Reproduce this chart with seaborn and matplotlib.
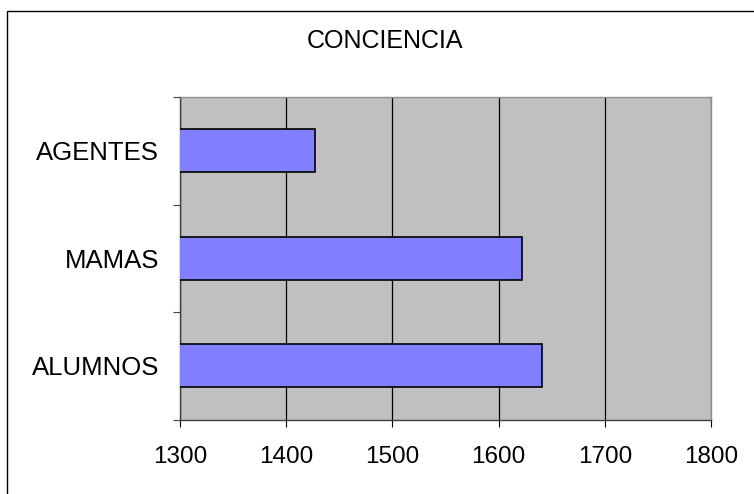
import matplotlib
matplotlib.use("Agg")
import matplotlib.pyplot as plt
from matplotlib.patches import Rectangle
from matplotlib.ticker import FixedLocator
import seaborn as sns
import pandas as pd

# Data
groups = ["AGENTES", "MAMAS", "ALUMNOS"]
scores = [1427, 1622, 1641]
x_ticks = [1300, 1400, 1500, 1600, 1700, 1800]
title = "CONCIENCIA"

df = pd.DataFrame({"grupo": groups, "valor": scores})

sns.set_style("white")
plt.rcParams["font.family"] = ["Liberation Sans", "DejaVu Sans"]
plt.rcParams["text.color"] = "black"
plt.rcParams["xtick.color"] = "black"
plt.rcParams["ytick.color"] = "black"

fig = plt.figure(figsize=(7.54, 4.94), dpi=100)
ax = fig.add_axes([180 / 754, 1 - 419.5 / 494, 531 / 754, 322.5 / 494])
ax.set_facecolor("#C0C0C0")

sns.barplot(data=df, x="valor", y="grupo", order=groups, orient="h",
            color="#8080FF", saturation=1, width=0.4,
            edgecolor="black", linewidth=1.2, ax=ax, zorder=3)

ax.set_xlim(x_ticks[0], x_ticks[-1])
ax.set_xticks(x_ticks)
ax.xaxis.grid(True, color="black", linewidth=0.9, zorder=1)
ax.set_axisbelow(True)
ax.set_xlabel("")
ax.set_ylabel("")

# Excel style: ticks at the category boundaries, labels in between
ax.yaxis.set_minor_locator(FixedLocator([-0.5, 0.5, 1.5, 2.5]))
ax.tick_params(axis="y", which="major", length=0, pad=15, labelsize=18.5,
               labelcolor="black")
ax.tick_params(axis="y", which="minor", length=5, width=0.8, color="#404040", left=True)
ax.tick_params(axis="x", which="major", length=5, width=0.8, color="black",
               bottom=True, pad=14, labelsize=17.5, labelcolor="black")

for side in ["left", "bottom"]:
    ax.spines[side].set_color("#404040")
    ax.spines[side].set_linewidth(1)
for side in ["top", "right"]:
    ax.spines[side].set_color("#909090")
    ax.spines[side].set_linewidth(1)

fig.text(385 / 754, 1 - 41.5 / 494, title, ha="center", va="center",
         fontsize=18, color="black")

# chart area border (only the left and top edges are visible)
fig.patches.append(Rectangle((7 / 754, -0.1), 1.2, 1 - 11 / 494 + 0.1,
                             transform=fig.transFigure, fill=False,
                             edgecolor="black", linewidth=1))

fig.savefig("out.png", dpi=100, facecolor="white")
plt.close()
